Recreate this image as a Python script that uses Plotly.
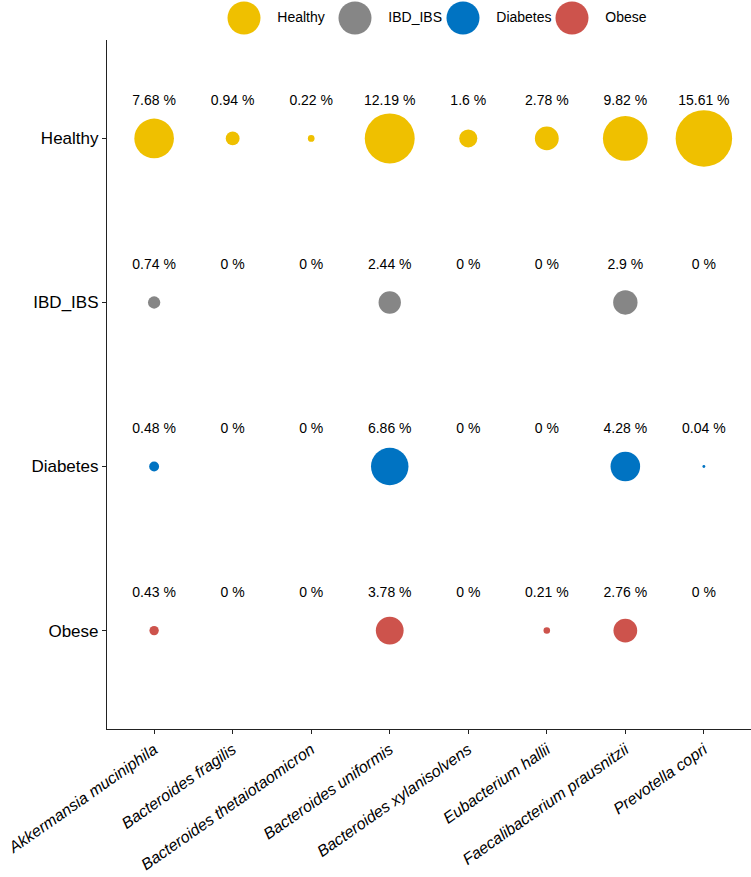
import plotly.graph_objects as go

species = ["Akkermansia muciniphila", "Bacteroides fragilis", "Bacteroides thetaiotaomicron",
           "Bacteroides uniformis", "Bacteroides xylanisolvens", "Eubacterium hallii",
           "Faecalibacterium prausnitzii", "Prevotella copri"]
groups = ["Healthy", "IBD_IBS", "Diabetes", "Obese"]
healthy = [7.68, 0.94, 0.22, 12.19, 1.6, 2.78, 9.82, 15.61]
ibd_ibs = [0.74, 0, 0, 2.44, 0, 0, 2.9, 0]
diabetes = [0.48, 0, 0, 6.86, 0, 0, 4.28, 0.04]
obese = [0.43, 0, 0, 3.78, 0, 0.21, 2.76, 0]
colors = ["#EFC000", "#868686", "#0073C2", "#CD534C"]

values = [healthy, ibd_ibs, diabetes, obese]
SCALE = 14.3
LABEL_OFFSET = 0.225
FONT = "Liberation Sans, Arial, sans-serif"

fig = go.Figure()
xs = list(range(len(species)))
for gi, (g, vals, col) in enumerate(zip(groups, values, colors)):
    fig.add_trace(go.Scatter(
        x=xs, y=[gi] * len(xs), mode="markers",
        marker=dict(size=[SCALE * v ** 0.5 for v in vals], color=col, opacity=1,
                    line=dict(width=0)),
        showlegend=False, hoverinfo="skip"))
    fig.add_trace(go.Scatter(
        x=xs, y=[gi - LABEL_OFFSET] * len(xs), mode="text",
        text=[f"{v:g} %" for v in vals], textposition="middle center",
        textfont=dict(size=14, color="black", family=FONT),
        showlegend=False, hoverinfo="skip"))

# custom legend on a helper axis (pixel units of the plot width)
legend_pos = [137, 248, 356, 465]
fig.add_trace(go.Scatter(
    x=legend_pos, y=[0] * 4, mode="markers+text", xaxis="x2", yaxis="y2",
    marker=dict(size=33, color=colors, opacity=1, line=dict(width=0)),
    text=["   " + g for g in groups], textposition="middle right",
    textfont=dict(size=14, color="black", family=FONT),
    showlegend=False, hoverinfo="skip"))

W, H = 751, 877
ml, mr, mt, mb = 107, 0, 0, 148
ph = H - mt - mb
top_gap = 40
legend_band = 36
fig.update_layout(
    width=W, height=H, margin=dict(l=ml, r=mr, t=mt, b=mb, autoexpand=False),
    plot_bgcolor="white", paper_bgcolor="white",
    font=dict(family=FONT, color="black"),
    xaxis=dict(range=[-0.6, len(species) - 0.4], tickvals=xs, ticktext=species,
               tickangle=-35, automargin=False,
               tickfont=dict(size=16, color="black", family=FONT, style="italic"),
               showgrid=False, zeroline=False, showline=True, linecolor="#222222", linewidth=1.2,
               ticks="outside", ticklen=4, tickcolor="#222222"),
    yaxis=dict(range=[len(groups) - 0.4, -0.6], tickvals=list(range(len(groups))), ticktext=groups,
               automargin=False,
               tickfont=dict(size=17, color="black", family=FONT), domain=[0, (ph - top_gap) / ph],
               showgrid=False, zeroline=False, showline=True, linecolor="#222222", linewidth=1.2,
               ticks="outside", ticklen=4, tickcolor="#222222"),
    xaxis2=dict(range=[0, W - ml - mr], domain=[0, 1], anchor="y2", visible=False),
    yaxis2=dict(range=[-1, 1], domain=[1 - legend_band / ph, 1], anchor="x2", visible=False),
)
fig.write_html("out.html", config={"displayModeBar": False},
               post_script="document.body.style.margin='0';document.body.style.overflow='hidden';")
